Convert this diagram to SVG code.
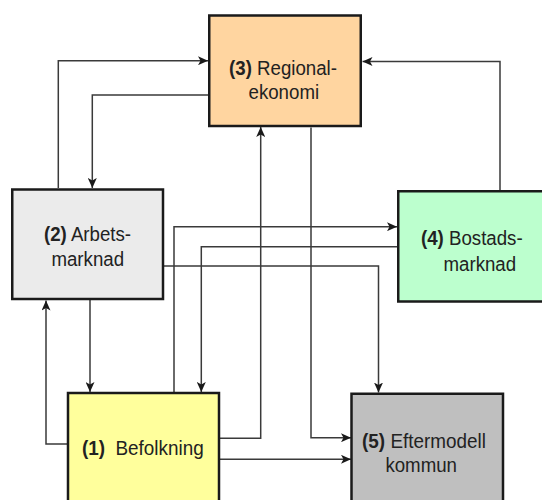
<svg xmlns="http://www.w3.org/2000/svg" width="542" height="500" viewBox="0 0 542 500">
<style>
.box{stroke:#1a1a1a;stroke-width:2.5}
.lbl{font-family:"Liberation Sans",Arial,sans-serif;font-size:21px;fill:#222;text-anchor:middle}
.b{font-weight:bold}
.con{fill:none;stroke:#3a3a3a;stroke-width:1.5;marker-end:url(#ah)}
</style>
<defs>
<marker id="ah" markerUnits="userSpaceOnUse" markerWidth="10" markerHeight="9" viewBox="0 0 10 9" refX="10" refY="4.5" orient="auto">
<path d="M0,0 L10,4.5 L0,9 L2.5,4.5 z" fill="#1a1a1a"/>
</marker>
</defs>
<rect width="542" height="500" fill="#fff"/>
<g id="connectors">
<path class="con" d="M58.3 188 V60.7 H208"/>
<path class="con" d="M208 95 H92.3 V188"/>
<path class="con" d="M500 190 V61.5 H362.5"/>
<path class="con" d="M220 438.3 H260.7 V127"/>
<path class="con" d="M311 127.5 V437.7 H351"/>
<path class="con" d="M174 392 V226.7 H397"/>
<path class="con" d="M397 246.7 H201.3 V392"/>
<path class="con" d="M164 266 H378.5 V392.5"/>
<path class="con" d="M90 300 V392"/>
<path class="con" d="M67 444 H46 V300.5"/>
<path class="con" d="M220 459.3 H351"/>
</g>
<g id="node3">
<rect class="box" x="209.25" y="15.5" width="151.5" height="110.5" fill="#FFD5A0"/>
<text class="lbl" transform="translate(283,75) scale(0.89,1)"><tspan class="b">(3)</tspan> Regional-</text>
<text class="lbl" transform="translate(283.8,99) scale(0.89,1)">ekonomi</text>
</g>
<g id="node2">
<rect class="box" x="12.25" y="189.5" width="150.75" height="109.5" fill="#EBEBEB"/>
<text class="lbl" transform="translate(87.5,241) scale(0.89,1)"><tspan class="b">(2)</tspan> Arbets-</text>
<text class="lbl" transform="translate(87.7,266) scale(0.89,1)">marknad</text>
</g>
<g id="node4">
<rect class="box" x="398.25" y="191.25" width="152" height="110.25" fill="#BCFFCE"/>
<text class="lbl" transform="translate(471.8,245) scale(0.89,1)"><tspan class="b">(4)</tspan> Bostads-</text>
<text class="lbl" transform="translate(479.8,270.7) scale(0.89,1)">marknad</text>
</g>
<g id="node1">
<rect class="box" x="68" y="393" width="151" height="112" fill="#FFFF9C"/>
<text class="lbl" transform="translate(142.8,455) scale(0.9,1)"><tspan class="b">(1)</tspan>&#160; Befolkning</text>
</g>
<g id="node5">
<rect class="box" x="351.5" y="393.75" width="151.5" height="112" fill="#BFBFBF"/>
<text class="lbl" transform="translate(424,448.3) scale(0.9,1)"><tspan class="b">(5)</tspan> Eftermodell</text>
<text class="lbl" transform="translate(421.2,471.7) scale(0.89,1)">kommun</text>
</g>
</svg>
